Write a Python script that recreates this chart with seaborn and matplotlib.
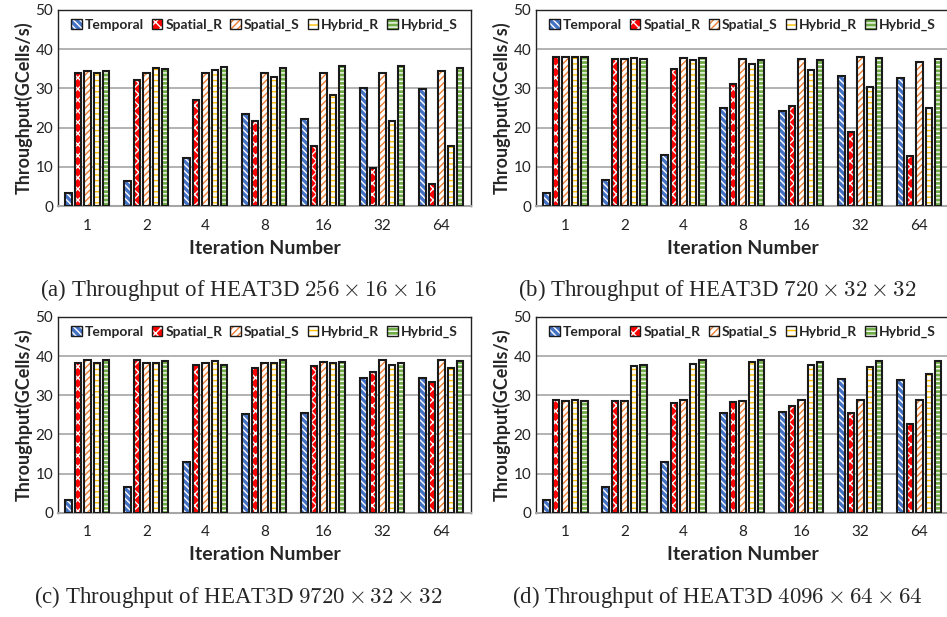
import numpy as np
import matplotlib
matplotlib.use("Agg")
import matplotlib.pyplot as plt
from matplotlib.patches import Patch, Rectangle
import pandas as pd
import seaborn as sns

sns.set_style("white")
plt.rcParams['font.family'] = ['Lato', 'DejaVu Sans']
plt.rcParams['mathtext.fontset'] = 'cm'
plt.rcParams['hatch.linewidth'] = 1.0

iterations = ["1", "2", "4", "8", "16", "32", "64"]
methods = ["Temporal", "Spatial_R", "Spatial_S", "Hybrid_R", "Hybrid_S"]

# (a) 256x16x16
a_temporal = [3.3, 6.4, 12.3, 23.5, 22.3, 30.0, 29.8]
a_spatial_r = [33.8, 32.2, 27.1, 21.7, 15.3, 9.8, 5.6]
a_spatial_s = [34.4, 33.8, 34.0, 33.8, 34.0, 34.0, 34.4]
a_hybrid_r = [33.8, 35.3, 34.7, 32.8, 28.4, 21.7, 15.3]
a_hybrid_s = [34.4, 34.9, 35.5, 35.3, 35.7, 35.7, 35.1]

# (b) 720x32x32
b_temporal = [3.4, 6.6, 12.9, 24.9, 24.3, 33.2, 32.6]
b_spatial_r = [37.9, 37.5, 35.0, 31.2, 25.4, 19.0, 12.7]
b_spatial_s = [37.9, 37.4, 37.7, 37.4, 37.4, 37.9, 36.8]
b_hybrid_r = [37.9, 37.7, 37.2, 36.2, 34.6, 30.4, 24.9]
b_hybrid_s = [37.9, 37.5, 37.7, 37.1, 37.1, 37.7, 37.4]

# (c) 9720x32x32
c_temporal = [3.2, 6.5, 12.9, 25.3, 25.6, 34.3, 34.5]
c_spatial_r = [38.3, 38.9, 37.8, 37.0, 37.5, 35.8, 33.4]
c_spatial_s = [38.9, 38.1, 38.1, 38.3, 38.6, 38.9, 38.9]
c_hybrid_r = [38.3, 38.1, 38.7, 38.1, 38.1, 37.7, 36.9]
c_hybrid_s = [38.9, 38.7, 37.8, 39.1, 38.6, 38.3, 38.7]

# (d) 4096x64x64
d_temporal = [3.4, 6.6, 13.0, 25.5, 25.7, 34.2, 34.0]
d_spatial_r = [28.9, 28.5, 28.1, 28.3, 27.2, 25.5, 22.7]
d_spatial_s = [28.5, 28.5, 28.7, 28.5, 28.7, 28.7, 28.7]
d_hybrid_r = [28.9, 37.4, 38.0, 38.6, 37.6, 37.2, 35.4]
d_hybrid_s = [28.5, 37.7, 39.0, 39.0, 38.6, 38.8, 38.8]

captions = [r"(a) Throughput of HEAT3D $256 \times 16 \times 16$",
            r"(b) Throughput of HEAT3D $720 \times 32 \times 32$",
            r"(c) Throughput of HEAT3D $9720 \times 32 \times 32$",
            r"(d) Throughput of HEAT3D $4096 \times 64 \times 64$"]

panels = [
    [a_temporal, a_spatial_r, a_spatial_s, a_hybrid_r, a_hybrid_s],
    [b_temporal, b_spatial_r, b_spatial_s, b_hybrid_r, b_hybrid_s],
    [c_temporal, c_spatial_r, c_spatial_s, c_hybrid_r, c_hybrid_s],
    [d_temporal, d_spatial_r, d_spatial_s, d_hybrid_r, d_hybrid_s],
]

face = {"Temporal": "#4472C4", "Spatial_R": "#FF0000", "Spatial_S": "white",
        "Hybrid_R": "white", "Hybrid_S": "#70AD47"}
hcol = {"Temporal": "white", "Spatial_R": "white", "Spatial_S": "#ED7D31",
        "Hybrid_R": "#FFC000", "Hybrid_S": "white"}
hatch = {"Temporal": "\\\\\\\\\\", "Spatial_R": "xxx", "Spatial_S": "/////",
         "Hybrid_R": "---", "Hybrid_S": "----"}

fig = plt.figure(figsize=(9.47, 6.17), dpi=100)
pos = [[0.0612, 0.666, 0.436, 0.318],
       [0.566, 0.666, 0.436, 0.318],
       [0.0612, 0.1686, 0.436, 0.318],
       [0.566, 0.1686, 0.436, 0.318]]
cap_xy = [(0.252, 0.530), (0.757, 0.530), (0.252, 0.033), (0.757, 0.033)]

for k, series in enumerate(panels):
    ax = fig.add_axes(pos[k])
    rows = []
    for m, vals in zip(methods, series):
        for it, v in zip(iterations, vals):
            rows.append({"iter": it, "method": m, "value": v})
    df = pd.DataFrame(rows)
    sns.barplot(data=df, x="iter", y="value", hue="method", order=iterations,
                hue_order=methods, errorbar=None, gap=0.33, legend=False, ax=ax)
    for m, cont in zip(methods, ax.containers):
        for p in cont.patches:
            p.set_facecolor(face[m])
            p.set_edgecolor(hcol[m])
            p.set_hatch(hatch[m])
            p.set_linewidth(0)
            ax.add_patch(Rectangle(p.get_xy(), p.get_width(), p.get_height(),
                                   fill=False, edgecolor="#1a1a1a", lw=1.5, zorder=3))
    ax.set_ylim(0, 50)
    ax.set_xlim(-0.5, 6.5)
    ax.set_yticks([0, 10, 20, 30, 40, 50])
    ax.yaxis.grid(True, color="#A6A6A6", lw=1.2)
    ax.set_axisbelow(True)
    ax.tick_params(axis="both", length=0, labelsize=11, colors="#222222")
    ax.tick_params(axis="x", pad=9)
    for s in ["top", "left", "right"]:
        ax.spines[s].set_color("#222222")
        ax.spines[s].set_linewidth(1.0)
    ax.spines["bottom"].set_color("#A6A6A6")
    ax.spines["bottom"].set_linewidth(1.5)
    ax.set_xlabel("Iteration Number", fontsize=14, fontweight="bold", labelpad=5)
    ax.set_ylabel("Throughput(GCells/s)", fontsize=13, fontweight="bold", labelpad=2)
    handles = [(Patch(facecolor=face[m], edgecolor=hcol[m], hatch=hatch[m], lw=0),
                Patch(fill=False, edgecolor="#1a1a1a", lw=1.0)) for m in methods]
    ax.legend(handles, methods, loc="upper center", ncol=5, frameon=False,
              prop={"weight": "bold", "size": 10}, handlelength=0.75,
              handleheight=0.75, handletextpad=0.2, columnspacing=0.6,
              bbox_to_anchor=(0.5, 1.0), borderaxespad=0.25)
    fig.text(cap_xy[k][0], cap_xy[k][1], captions[k], ha="center", va="center",
             fontsize=16.5, family=["Liberation Serif", "DejaVu Serif"])

fig.savefig("out.png", dpi=100)
